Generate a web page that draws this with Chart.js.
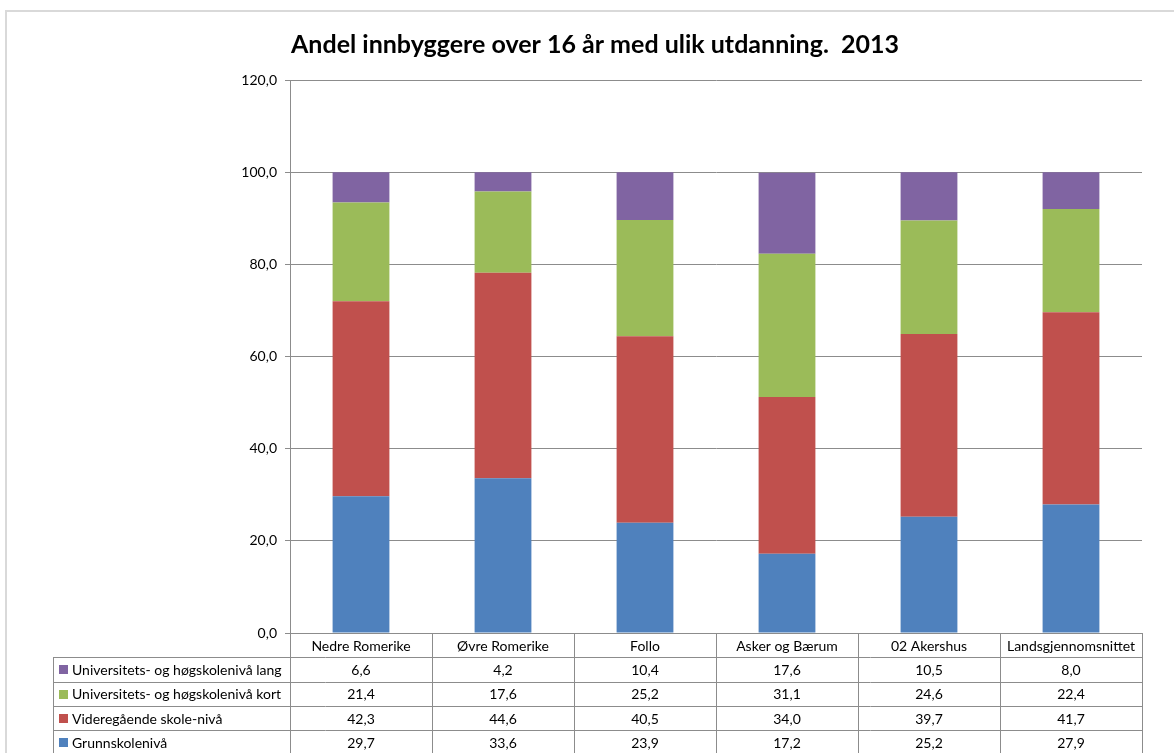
<!DOCTYPE html>
<html>
<head>
<meta charset="utf-8">
<script src="https://cdn.jsdelivr.net/npm/chart.js@4"></script>
<style>
html,body{margin:0;padding:0;background:#fff;}
#wrap{width:1174px;height:753px;position:relative;}
</style>
</head>
<body>
<div id="wrap"><canvas id="eduChart" width="1174" height="753"></canvas></div>
<script>
const categories = ["Nedre Romerike", "Øvre Romerike", "Follo", "Asker og Bærum", "02 Akershus", "Landsgjennomsnittet"];
const grunnskole = [29.7, 33.6, 23.9, 17.2, 25.2, 27.9];
const videregaende = [42.3, 44.6, 40.5, 34.0, 39.7, 41.7];
const uniKort = [21.4, 17.6, 25.2, 31.1, 24.6, 22.4];
const uniLang = [6.6, 4.2, 10.4, 17.6, 10.5, 8.0];
const seriesNames = ["Grunnskolenivå", "Videregående skole-nivå", "Universitets- og høgskolenivå kort", "Universitets- og høgskolenivå lang"];
const seriesColors = ["#4F81BD", "#C0504D", "#9BBB59", "#8064A2"];
const titleText = "Andel innbyggere over 16 år med ulik utdanning.  2013";

const FONT = "Lato, 'Open Sans', sans-serif";
const fmt = v => v.toFixed(1).replace(".", ",");

// Title, frame and data table
const tablePlugin = {
  id: "tablePlugin",
  beforeDraw(chart) {
    const c = chart.ctx;
    c.save();
    c.fillStyle = "#fff";
    c.fillRect(0, 0, chart.width, chart.height);
    c.strokeStyle = "#d9d9d9";
    c.lineWidth = 2;
    c.beginPath();
    c.moveTo(6, chart.height);
    c.lineTo(6, 11);
    c.lineTo(chart.width, 11);
    c.stroke();
    c.restore();
  },
  afterDraw(chart) {
    const c = chart.ctx;
    const x = chart.scales.x;
    const area = chart.chartArea;
    const colW = x.getPixelForValue(1) - x.getPixelForValue(0);
    const rows = [uniLang, uniKort, videregaende, grunnskole];
    const rowNames = [seriesNames[3], seriesNames[2], seriesNames[1], seriesNames[0]];
    const rowColors = [seriesColors[3], seriesColors[2], seriesColors[1], seriesColors[0]];
    const top = area.bottom;
    const rowH = 24.3;
    const tableLeft = 53;
    const bottom = chart.height + 2;

    c.save();
    // title
    c.fillStyle = "#000";
    c.font = "bold 25px " + FONT;
    c.textAlign = "center";
    c.textBaseline = "middle";
    c.fillText(titleText, 595, 45);

    // grid lines
    c.strokeStyle = "#8c8c8c";
    c.lineWidth = 1;
    c.beginPath();
    for (let i = 0; i <= categories.length; i++) {
      const bx = Math.round(area.left + i * colW) + 0.5;
      c.moveTo(bx, top);
      c.lineTo(bx, bottom);
    }
    c.moveTo(tableLeft + 0.5, top + rowH);
    c.lineTo(tableLeft + 0.5, bottom);
    for (let r = 1; r <= 4; r++) {
      const y = Math.round(top + r * rowH) + 0.5;
      c.moveTo(tableLeft, y);
      c.lineTo(area.right + 1, y);
    }
    c.stroke();

    // header
    c.font = "14px " + FONT;
    c.fillStyle = "#000";
    categories.forEach((cat, i) => {
      c.fillText(cat, x.getPixelForValue(i), top + rowH / 2 + 1);
    });

    // rows
    rows.forEach((vals, r) => {
      const cy = top + (r + 1) * rowH + rowH / 2 + 1;
      c.textAlign = "center";
      vals.forEach((v, i) => c.fillText(fmt(v), x.getPixelForValue(i), cy));
      c.fillStyle = rowColors[r];
      c.fillRect(59, Math.round(cy - 5), 9, 9);
      c.fillStyle = "#000";
      c.textAlign = "left";
      c.fillText(rowNames[r], 72, cy);
    });
    c.restore();
  }
};

new Chart(document.getElementById("eduChart"), {
  type: "bar",
  data: {
    labels: categories,
    datasets: [
      { label: seriesNames[0], data: grunnskole, backgroundColor: seriesColors[0] },
      { label: seriesNames[1], data: videregaende, backgroundColor: seriesColors[1] },
      { label: seriesNames[2], data: uniKort, backgroundColor: seriesColors[2] },
      { label: seriesNames[3], data: uniLang, backgroundColor: seriesColors[3] }
    ]
  },
  options: {
    responsive: false,
    animation: false,
    layout: { padding: { top: 80, right: 32, bottom: 112, left: 0 } },
    datasets: {
      bar: { barPercentage: 1, categoryPercentage: 0.4, borderWidth: 0 }
    },
    plugins: {
      legend: { display: false },
      title: { display: false },
      tooltip: { enabled: false }
    },
    scales: {
      x: {
        stacked: true,
        ticks: { display: false },
        grid: { display: false },
        border: { display: true, color: "#8c8c8c" }
      },
      y: {
        stacked: true,
        min: 0,
        max: 120,
        ticks: {
          stepSize: 20,
          color: "#000",
          padding: 8,
          font: { family: FONT, size: 14 },
          callback: v => fmt(v)
        },
        grid: { color: "#8c8c8c", tickLength: 5, drawTicks: true },
        border: { display: true, color: "#8c8c8c" },
        afterFit(scale) { scale.width = 290; }
      }
    }
  },
  plugins: [tablePlugin]
});
</script>
</body>
</html>
